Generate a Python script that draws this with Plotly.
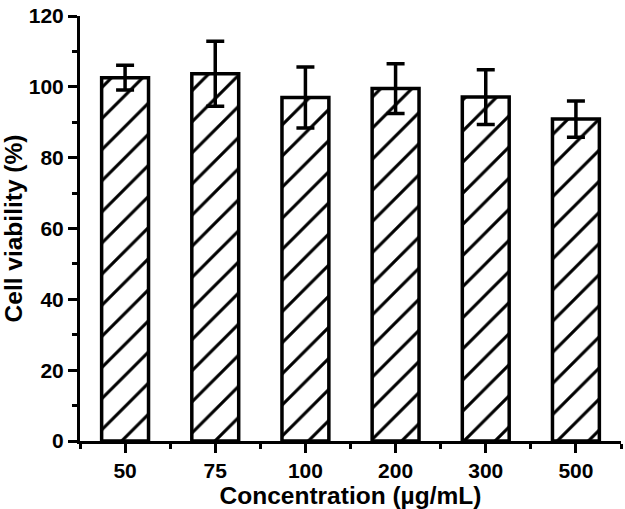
import plotly.graph_objects as go

concentrations = ["50", "75", "100", "200", "300", "500"]
viability = [102.6, 103.7, 97.0, 99.5, 97.1, 90.9]
viability_sd = [3.5, 9.2, 8.6, 7.0, 7.7, 5.1]
y_ticks = [0, 20, 40, 60, 80, 100, 120]

positions = list(range(len(concentrations)))

font_bold = "Liberation Sans"

fig = go.Figure()
fig.add_trace(
    go.Bar(
        x=positions,
        y=viability,
        width=0.52,
        marker=dict(
            color="white",
            line=dict(color="black", width=3.5),
            pattern=dict(
                shape="/",
                size=22,
                solidity=0.14,
                fgcolor="black",
                fgopacity=1,
                bgcolor="white",
                fillmode="overlay",
            ),
        ),
        error_y=dict(
            type="data",
            array=viability_sd,
            visible=True,
            color="black",
            thickness=3.5,
            width=9,
        ),
        showlegend=False,
    )
)

fig.update_layout(
    width=625,
    height=509,
    margin=dict(l=80, r=4, t=13, b=68),
    paper_bgcolor="white",
    plot_bgcolor="white",
    font=dict(family=font_bold, color="black"),
)

fig.update_xaxes(
    range=[-0.5, 5.5],
    tickvals=positions,
    ticktext=[f"<b>{c}</b>" for c in concentrations],
    tickfont=dict(size=21),
    ticks="outside",
    ticklen=9,
    tickwidth=3,
    tickcolor="black",
    showline=True,
    linecolor="black",
    linewidth=3,
    showgrid=False,
    zeroline=False,
    minor=dict(tick0=0.5, dtick=1, ticks="outside", ticklen=5, tickwidth=3, tickcolor="black"),
    title=dict(text="<b>Concentration (µg/mL)</b>", font=dict(size=24.5), standoff=4),
)

fig.update_yaxes(
    range=[0, 120],
    tickvals=y_ticks,
    ticktext=[f"<b>{v}</b>" for v in y_ticks],
    tickfont=dict(size=21),
    ticklabeloverflow="allow",
    ticks="outside",
    ticklen=9,
    tickwidth=3,
    tickcolor="black",
    showline=True,
    linecolor="black",
    linewidth=3,
    showgrid=False,
    zeroline=False,
    minor=dict(tick0=10, dtick=20, ticks="outside", ticklen=5, tickwidth=3, tickcolor="black"),
    title=dict(text="<b>Cell viability (%)</b>", font=dict(size=24.5), standoff=2),
)

# drop the default body margin so the figure sits at the page corner
fig.write_html(
    "out.html",
    config={"displayModeBar": False},
    post_script="document.body.style.margin='0';",
)
